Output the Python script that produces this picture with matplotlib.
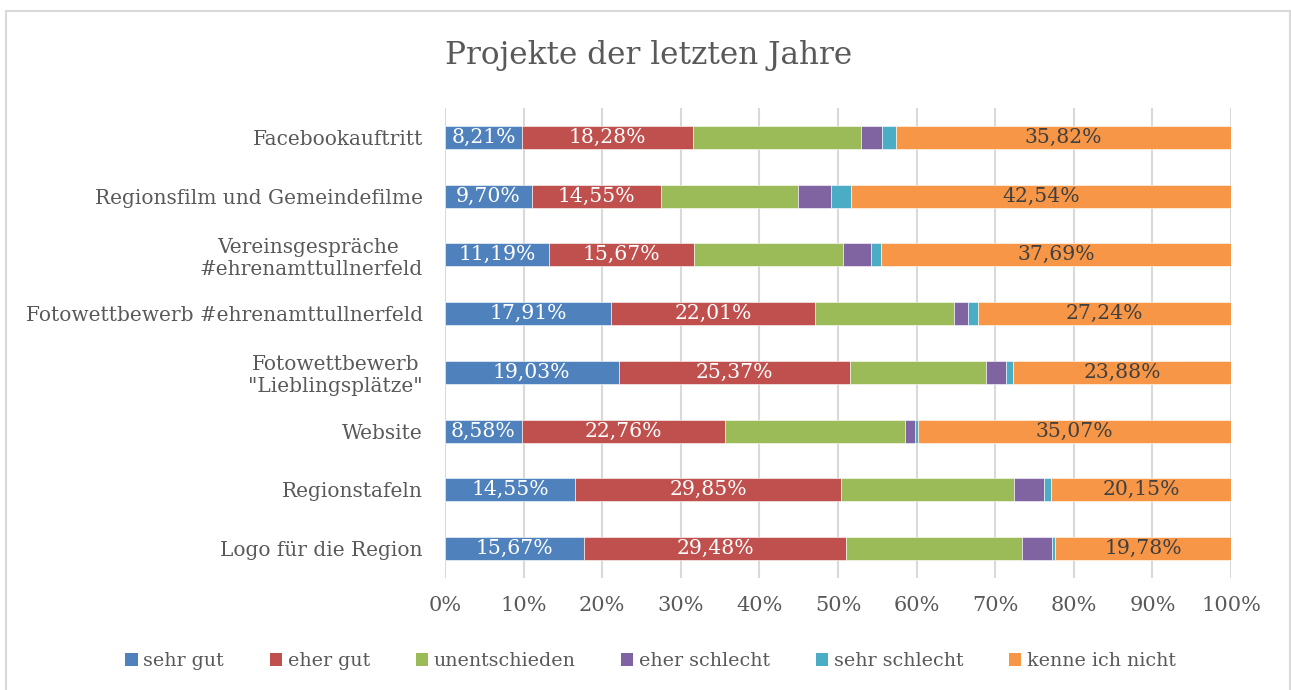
import numpy as np
import matplotlib.pyplot as plt
from matplotlib.patches import Rectangle, Patch

plt.rcParams['font.family'] = 'DejaVu Serif'

# data: percent of respondents per project
projekte = ['Facebookauftritt', 'Regionsfilm und Gemeindefilme',
            'Vereinsgespräche \n#ehrenamttullnerfeld',
            'Fotowettbewerb #ehrenamttullnerfeld',
            'Fotowettbewerb\n"Lieblingsplätze"', 'Website',
            'Regionstafeln', 'Logo für die Region']
sehr_gut = [8.21, 9.70, 11.19, 17.91, 19.03, 8.58, 14.55, 15.67]
eher_gut = [18.28, 14.55, 15.67, 22.01, 25.37, 22.76, 29.85, 29.48]
unentschieden = [17.91, 15.30, 16.04, 14.93, 14.93, 20.15, 19.40, 19.78]
eher_schlecht = [2.24, 3.73, 2.99, 1.49, 2.24, 1.12, 3.36, 3.36]
sehr_schlecht = [1.49, 2.24, 1.12, 1.12, 0.75, 0.37, 0.75, 0.37]
kenne_nicht = [35.82, 42.54, 37.69, 27.24, 23.88, 35.07, 20.15, 19.78]

serien = ['sehr gut', 'eher gut', 'unentschieden', 'eher schlecht',
          'sehr schlecht', 'kenne ich nicht']
farben = ['#4F81BD', '#C0504D', '#9BBB59', '#8064A2', '#4BACC6', '#F79646']
mit_label = [True, True, False, False, False, True]
label_farbe = ['white', 'white', None, None, None, '#404040']

werte = np.array([sehr_gut, eher_gut, unentschieden, eher_schlecht,
                  sehr_schlecht, kenne_nicht])
anteile = werte / werte.sum(axis=0)   # 100% stacked

fig = plt.figure(figsize=(12.91, 6.90), dpi=100)
ax = fig.add_axes([445/1291, 1-578/690, 786/1291, 470/690])

y = np.arange(len(projekte))
links = np.zeros(len(projekte))
for i in range(len(serien)):
    bars = ax.barh(y, anteile[i], left=links, height=0.39, color=farben[i],
                   edgecolor='white', linewidth=0.4, label=serien[i])
    if mit_label[i]:
        texte = [f'{v:.2f}%'.replace('.', ',') for v in werte[i]]
        ax.bar_label(bars, labels=texte, label_type='center',
                     color=label_farbe[i], fontsize=14.7)
    links += anteile[i]

ax.set_xlim(0, 1)
ax.set_ylim(len(projekte)-0.5, -0.5)
ax.set_yticks(y)
ax.set_yticklabels(projekte, fontsize=14.5, color='#595959',
                   multialignment='center')
ax.set_xticks(np.linspace(0, 1, 11))
ax.set_xticklabels([f'{int(round(t*100))}%' for t in np.linspace(0, 1, 11)],
                   fontsize=15, color='#595959')
ax.tick_params(axis='both', length=0)
ax.tick_params(axis='x', pad=13)
ax.tick_params(axis='y', pad=16)
ax.xaxis.grid(True, color='#d9d9d9', linewidth=1.5)
ax.set_axisbelow(True)
for s in ax.spines.values():
    s.set_visible(False)

fig.text(0.5023, 0.920, 'Projekte der letzten Jahre', ha='center',
         va='center', fontsize=22.4, color='#595959')

handles = [Patch(facecolor=farben[i], label=serien[i]) for i in range(6)]
fig.legend(handles=handles, loc='center', bbox_to_anchor=(0.504, 0.042),
           ncol=6, frameon=False, fontsize=13.7, handlelength=0.65,
           handleheight=0.65, handletextpad=0.3, columnspacing=2.4,
           labelcolor='#595959')

fig.patches.append(Rectangle((6/1291, -0.01), 1284/1291, 679/690 + 0.01,
                             transform=fig.transFigure, fill=False,
                             edgecolor='#d9d9d9', linewidth=1.5))

fig.savefig('out.png', dpi=100)
